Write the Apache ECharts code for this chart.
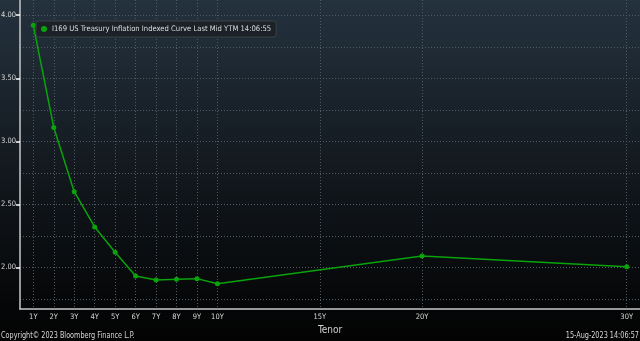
<!DOCTYPE html>
<html><head><meta charset="utf-8">
<script src="https://cdn.jsdelivr.net/npm/echarts@6/dist/echarts.min.js"></script>
<style>html,body{margin:0;padding:0;background:#000}#c{width:640px;height:341px}</style>
</head><body><div id="c"></div>
<script>
const seriesName = 'I169 US Treasury Inflation Indexed Curve Last Mid YTM 14:06:55';
const tenors = [1, 2, 3, 4, 5, 6, 7, 8, 9, 10, 20, 30];
const yields = [3.92, 3.11, 2.60, 2.32, 2.12, 1.93, 1.90, 1.905, 1.91, 1.87, 2.09, 2.005];
const xTicks = [1, 2, 3, 4, 5, 6, 7, 8, 9, 10, 15, 20, 30];
const yLabels = [2.0, 2.5, 3.0, 3.5, 4.0];
const yGrid = [1.75, 2.0, 2.25, 2.5, 2.75, 3.0, 3.25, 3.5, 3.75, 4.0];
const xName = 'Tenor';
const copyright = 'Copyright\u00A9 2023 Bloomberg Finance L.P.';
const stamp = '15-Aug-2023 14:06:57';

const font = '"DejaVu Sans Condensed", sans-serif';
const chart = echarts.init(document.getElementById('c'));
const gridLine = {show: true, lineStyle: {color: '#505a64', width: 1, type: [1, 2]}};
chart.setOption({
  animation: false,
  backgroundColor: new echarts.graphic.LinearGradient(0, 0, 0, 1, [
    {offset: 0, color: '#24323e'}, {offset: 0.55, color: '#11161b'}, {offset: 0.9, color: '#050607'}, {offset: 1, color: '#030303'}
  ]),
  grid: {left: 20, right: 0, top: 0, bottom: 32, containLabel: false, outerBoundsMode: 'none'},
  legend: {
    left: 36, top: 21, padding: [4, 5, 4, 5],
    backgroundColor: '#1b2127', borderColor: '#3a4248', borderWidth: 1, borderRadius: 3,
    icon: 'circle', itemWidth: 6, itemHeight: 6, itemGap: 4,
    textStyle: {color: '#dcdcdc', fontFamily: font, fontSize: 7.6},
    data: [seriesName]
  },
  xAxis: {
    type: 'value', min: 0.35, max: 30.65,
    name: xName, nameLocation: 'middle', nameGap: 9,
    nameTextStyle: {color: '#d0d0d0', fontFamily: font, fontSize: 10},
    axisLine: {lineStyle: {color: '#c8c8c8', width: 1.5}},
    axisTick: {show: false, customValues: xTicks},
    axisLabel: {customValues: xTicks, formatter: v => v + 'Y', color: '#d8d8d8', fontFamily: font, fontSize: 7.5, margin: 4},
    splitLine: gridLine
  },
  yAxis: [{
    type: 'value', min: 1.669, max: 4.121,
    axisLine: {show: true, lineStyle: {color: '#c8c8c8', width: 1.5}},
    axisTick: {show: true, length: 4, customValues: yLabels, lineStyle: {color: '#ffffff', width: 1.5}},
    axisLabel: {customValues: yLabels, formatter: v => v.toFixed(2), color: '#d8d8d8', fontFamily: font, fontSize: 7.5, margin: 4},
    splitLine: {show: false}
  }, {
    type: 'value', min: 1.669, max: 4.121, position: 'left',
    axisLine: {show: false}, axisLabel: {show: false},
    axisTick: {show: false, customValues: yGrid},
    splitLine: gridLine
  }],
  series: [{
    name: seriesName, type: 'line',
    data: tenors.map((t, i) => [t, yields[i]]),
    symbol: 'circle', symbolSize: 5,
    itemStyle: {color: '#09a40b'},
    lineStyle: {color: '#09a40b', width: 1.5}
  }],
  graphic: [
    {type: 'text', x: 1, y: 331, scaleX: 0.76, style: {text: copyright, fill: '#d8d8d8', font: '9.5px ' + font}},
    {type: 'text', x: 639, y: 331, scaleX: 0.76, style: {text: stamp, fill: '#d8d8d8', font: '9.5px ' + font, align: 'right'}}
  ]
});
</script></body></html>
